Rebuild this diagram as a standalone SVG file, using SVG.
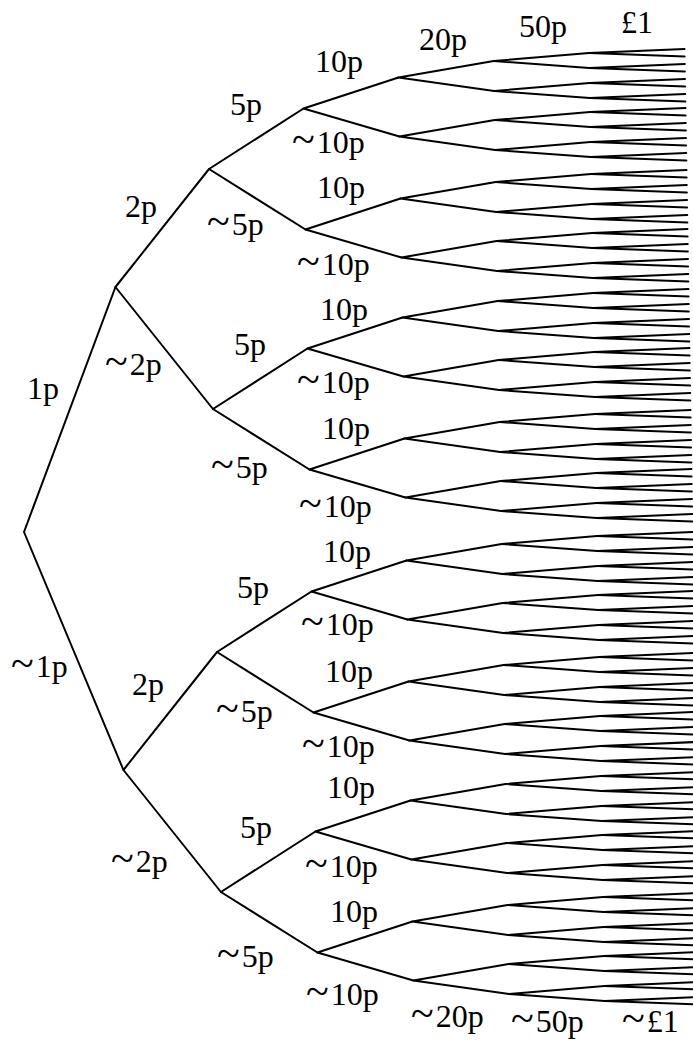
<svg xmlns="http://www.w3.org/2000/svg" width="693" height="1041" viewBox="0 0 693 1041">
<style>
  .e{stroke:#000;stroke-width:2;fill:none;stroke-linecap:round}
  text{font-family:"Liberation Serif","Times New Roman",serif;font-size:32px;fill:#000}
  .t{font-size:42px}
</style>
<defs>
  <g id="t6"><path class="e" d="M0,0L95.5,-4M0,0L95.5,3.5"/></g>
  <g id="t5"><path class="e" d="M0,0L95.5,-8M0,0L95.5,7"/><use href="#t6" x="95.5" y="-8"/><use href="#t6" x="95.5" y="7"/></g>
  <g id="t4"><path class="e" d="M0,0L95.5,-16.5M0,0L95.5,13.5"/><use href="#t5" x="95.5" y="-16.5"/><use href="#t5" x="95.5" y="13.5"/></g>
  <g id="t3"><path class="e" d="M0,0L95.5,-31M0,0L95.5,28"/><use href="#t4" x="95.5" y="-31"/><use href="#t4" x="95.5" y="28"/></g>
  <g id="t2"><path class="e" d="M0,0L95.5,-60.5M0,0L95.5,60.5"/><use href="#t3" x="95.5" y="-60.5"/><use href="#t3" x="95.5" y="60.5"/></g>
  <g id="t1"><path class="e" d="M0,0L95.5,-118M0,0L95.5,122"/><use href="#t2" x="95.5" y="-118"/><use href="#t2" x="95.5" y="122"/></g>
</defs>
<rect width="693" height="1041" fill="#fff"/>
<g id="connectors" transform="matrix(1,0,0.0165,1,24,532)">
  <path class="e" d="M0,0L95.5,-245M0,0L95.5,238"/>
  <use href="#t1" x="95.5" y="-245"/>
  <use href="#t1" x="95.5" y="238"/>
</g>
<g id="labels">
  <g id="n-1p"><text x="27" y="399">1p</text></g>
  <g id="n-not1p"><text x="11" y="677"><tspan class="t">~</tspan><tspan dx="2">1p</tspan></text></g>
  <g id="n-2p-a"><text x="125" y="217">2p</text></g>
  <g id="n-not2p-a"><text x="105" y="375"><tspan class="t">~</tspan><tspan dx="2">2p</tspan></text></g>
  <g id="n-2p-b"><text x="132" y="695">2p</text></g>
  <g id="n-not2p-b"><text x="111" y="872"><tspan class="t">~</tspan><tspan dx="2">2p</tspan></text></g>
  <g id="n-5p-a"><text x="230" y="115">5p</text></g>
  <g id="n-not5p-a"><text x="207" y="235"><tspan class="t">~</tspan><tspan dx="2">5p</tspan></text></g>
  <g id="n-5p-b"><text x="234" y="355">5p</text></g>
  <g id="n-not5p-b"><text x="211" y="478"><tspan class="t">~</tspan><tspan dx="2">5p</tspan></text></g>
  <g id="n-5p-c"><text x="237" y="598">5p</text></g>
  <g id="n-not5p-c"><text x="216" y="722"><tspan class="t">~</tspan><tspan dx="2">5p</tspan></text></g>
  <g id="n-5p-d"><text x="240" y="838">5p</text></g>
  <g id="n-not5p-d"><text x="217" y="967"><tspan class="t">~</tspan><tspan dx="2">5p</tspan></text></g>
  <g id="n-10p-a"><text x="315" y="72">10p</text></g>
  <g id="n-not10p-a"><text x="292" y="153"><tspan class="t">~</tspan><tspan dx="2">10p</tspan></text></g>
  <g id="n-10p-b"><text x="317" y="198">10p</text></g>
  <g id="n-not10p-b"><text x="297" y="275"><tspan class="t">~</tspan><tspan dx="2">10p</tspan></text></g>
  <g id="n-10p-c"><text x="320" y="320">10p</text></g>
  <g id="n-not10p-c"><text x="297" y="393"><tspan class="t">~</tspan><tspan dx="2">10p</tspan></text></g>
  <g id="n-10p-d"><text x="322" y="439">10p</text></g>
  <g id="n-not10p-d"><text x="299" y="517"><tspan class="t">~</tspan><tspan dx="2">10p</tspan></text></g>
  <g id="n-10p-e"><text x="323" y="562">10p</text></g>
  <g id="n-not10p-e"><text x="301" y="635"><tspan class="t">~</tspan><tspan dx="2">10p</tspan></text></g>
  <g id="n-10p-f"><text x="325" y="682">10p</text></g>
  <g id="n-not10p-f"><text x="302" y="757"><tspan class="t">~</tspan><tspan dx="2">10p</tspan></text></g>
  <g id="n-10p-g"><text x="327" y="798">10p</text></g>
  <g id="n-not10p-g"><text x="305" y="877"><tspan class="t">~</tspan><tspan dx="2">10p</tspan></text></g>
  <g id="n-10p-h"><text x="330" y="922">10p</text></g>
  <g id="n-not10p-h"><text x="306" y="1005"><tspan class="t">~</tspan><tspan dx="2">10p</tspan></text></g>
  <g id="n-20p"><text x="419" y="50">20p</text></g>
  <g id="n-50p"><text x="519" y="37">50p</text></g>
  <g id="n-1pound"><text x="621" y="33">£1</text></g>
  <g id="n-not20p"><text x="411" y="1027"><tspan class="t">~</tspan><tspan dx="2">20p</tspan></text></g>
  <g id="n-not50p"><text x="511" y="1032"><tspan class="t">~</tspan><tspan dx="2">50p</tspan></text></g>
  <g id="n-not1pound"><text x="622" y="1032"><tspan class="t">~</tspan><tspan dx="2">£1</tspan></text></g>
</g>
</svg>
